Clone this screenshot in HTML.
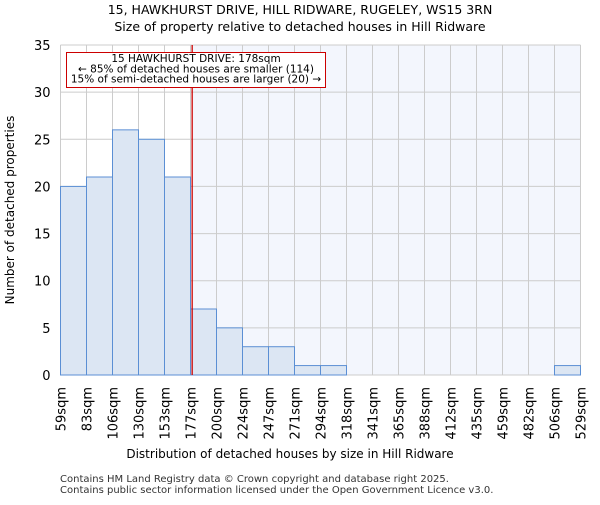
<!DOCTYPE html>
<html><head><meta charset="utf-8"><style>
body{margin:0;background:#fff;}
svg{font-family:"DejaVu Sans","Liberation Sans",sans-serif;}
</style></head><body>
<svg id="c" width="600" height="500" xmlns="http://www.w3.org/2000/svg">
<text x="300" y="14" font-size="12.5" text-anchor="middle">15, HAWKHURST DRIVE, HILL RIDWARE, RUGELEY, WS15 3RN</text>
<text x="300" y="31" font-size="12.5" text-anchor="middle">Size of property relative to detached houses in Hill Ridware</text>
<g id="plot"></g>
<text x="290" y="458" font-size="12" text-anchor="middle">Distribution of detached houses by size in Hill Ridware</text>
<text transform="translate(14,210) rotate(-90)" font-size="12" text-anchor="middle">Number of detached properties</text>
<text x="60" y="482" font-size="10" fill="#333">Contains HM Land Registry data © Crown copyright and database right 2025.</text>
<text x="60" y="493" font-size="10" fill="#333">Contains public sector information licensed under the Open Government Licence v3.0.</text>
</svg>
<script>
const edgeLabels=["59sqm","83sqm","106sqm","130sqm","153sqm","177sqm","200sqm","224sqm","247sqm","271sqm","294sqm","318sqm","341sqm","365sqm","388sqm","412sqm","435sqm","459sqm","482sqm","506sqm","529sqm"];
const counts=[20,21,26,25,21,7,5,3,3,1,1,0,0,0,0,0,0,0,0,1];
const yTicks=[0,5,10,15,20,25,30,35];
const propertySize=178;
const edgeValues=[59,82.5,106,129.5,153,176.5,200,223.5,247,270.5,294,317.5,341,364.5,388,411.5,435,458.5,482,505.5,529];
const NS="http://www.w3.org/2000/svg";
const L=60.5,R=580.5,T=45,B=375,yMax=35;
const bw=(R-L)/counts.length;
const xi=i=>L+i*bw;
const y=v=>B-v/yMax*(B-T);
const xv=v=>{for(let i=0;i<edgeValues.length-1;i++){if(v<=edgeValues[i+1])return xi(i)+(v-edgeValues[i])/(edgeValues[i+1]-edgeValues[i])*bw;}return R;};
const g=document.getElementById('plot');
function mk(t,a){const e=document.createElementNS(NS,t);for(const k in a)e.setAttribute(k,a[k]);g.appendChild(e);return e;}
const px=xv(propertySize);
let e=mk('rect',{x:px,y:T,width:R-px,height:B-T,fill:'#f3f6fd'});


yTicks.forEach(v=>{let l=mk('line',{x1:L,x2:R,y1:y(v),y2:y(v),stroke:'#ccc','stroke-width':1});


let t=mk('text',{x:L-10,y:y(v)+5,'font-size':13,'text-anchor':'end'});t.textContent=v;

});
edgeLabels.forEach((s,i)=>{let l=mk('line',{x1:xi(i),x2:xi(i),y1:T,y2:B,stroke:'#ccc','stroke-width':1});


let t=mk('text',{transform:`translate(${xi(i)+5},${B+12}) rotate(-90)`,'font-size':13,'text-anchor':'end'});t.textContent=s;

});
counts.forEach((c,i)=>{if(c<=0)return;let r=mk('rect',{x:xi(i),y:y(c),width:bw,height:B-y(c),fill:'#dce6f3',stroke:'#5b8fd4','stroke-width':1});

});
let rl=mk('line',{x1:px,x2:px,y1:T,y2:B,stroke:'#cc0000','stroke-width':1.3});


let box=mk('rect',{x:66.5,y:52.5,width:259,height:35,fill:'#fff',stroke:'#cc0000','stroke-width':1});


["15 HAWKHURST DRIVE: 178sqm","← 85% of detached houses are smaller (114)","15% of semi-detached houses are larger (20) →"].forEach((s,i)=>{let t=mk('text',{x:196,y:62+i*10.3,'font-size':10.5,'text-anchor':'middle'});t.textContent=s;

});
</script>
</body></html>
